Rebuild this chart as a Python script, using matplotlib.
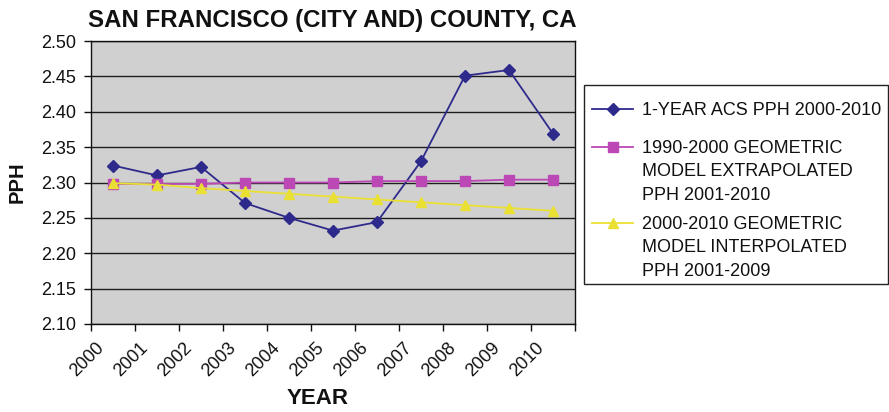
import matplotlib
matplotlib.use("Agg")
import matplotlib.pyplot as plt
from matplotlib.lines import Line2D
from matplotlib.patches import Rectangle
from matplotlib.transforms import ScaledTranslation
import numpy as np

plt.rcParams['font.family'] = ['Liberation Sans', 'DejaVu Sans']

years = ['2000', '2001', '2002', '2003', '2004', '2005',
         '2006', '2007', '2008', '2009', '2010']
acs_pph = [2.324, 2.310, 2.322, 2.271, 2.250, 2.232,
           2.244, 2.330, 2.451, 2.459, 2.369]
extrap_pph = [2.298, 2.298, 2.298, 2.300, 2.300, 2.300,
              2.302, 2.302, 2.302, 2.304, 2.304]
interp_pph = [2.299, 2.297, 2.292, 2.288, 2.284, 2.280,
              2.276, 2.272, 2.268, 2.264, 2.260]
y_ticks = [2.10, 2.15, 2.20, 2.25, 2.30, 2.35, 2.40, 2.45, 2.50]

series_labels = [['1-YEAR ACS PPH 2000-2010'],
                 ['1990-2000 GEOMETRIC', 'MODEL EXTRAPOLATED', 'PPH 2001-2010'],
                 ['2000-2010 GEOMETRIC', 'MODEL INTERPOLATED', 'PPH 2001-2009']]

BLUE = '#2E2A8C'
MAGENTA = '#BB48B4'
YELLOW = '#EAE033'
INK = '#111111'

W, H = 889, 412
fig = plt.figure(figsize=(W / 100, H / 100), dpi=100)


def px(x, y):
    """Pixel position (from top-left) to figure fraction."""
    return x / W, 1 - y / H


left, top, right, bottom = 91, 41, 575, 324
ax = fig.add_axes([left / W, 1 - bottom / H, (right - left) / W, (bottom - top) / H])
ax.set_facecolor('#D0D0D0')

x = np.arange(len(years)) + 0.5
styles = [
    (acs_pph, BLUE, 'D', 6.5),
    (extrap_pph, MAGENTA, 's', 6.5),
    (interp_pph, YELLOW, '^', 7.5),
]
for vals, col, mk, ms in styles:
    ax.plot(x, vals, color=col, lw=1.3, marker=mk, ms=ms,
            markeredgecolor=col, markerfacecolor=col, zorder=3)

ax.set_xlim(0, len(years))
ax.set_ylim(2.10, 2.50)
ax.set_yticks(y_ticks)
ax.set_yticklabels([f'{v:.2f}' for v in y_ticks], fontsize=13)
ax.yaxis.grid(True, color='#1E1E1E', lw=1.0)
ax.set_axisbelow(True)

ax.set_xticks(np.arange(len(years) + 1))
ax.set_xticklabels(years + [''], fontsize=13, rotation=45,
                   ha='right', va='center', rotation_mode='anchor')
ax.tick_params(axis='y', direction='out', length=5, width=1, pad=6, colors=INK)
ax.tick_params(axis='x', direction='out', length=5, width=1, pad=8, colors=INK)
for lab in ax.get_xticklabels():
    lab.set_transform(lab.get_transform() + ScaledTranslation(0.10, -0.03, fig.dpi_scale_trans))

for sp in ax.spines.values():
    sp.set_color(INK)
    sp.set_linewidth(1.0)

# titles
fig.text(*px(88, 27), 'SAN FRANCISCO (CITY AND) COUNTY, CA', fontsize=17.3,
         fontweight='bold', color=INK, ha='left', va='baseline')
fig.text(*px(17, 182), 'PPH', fontsize=14.5, fontweight='bold', rotation=90,
         ha='center', va='center', color=INK)
fig.text(*px(318, 398), 'YEAR', fontsize=16, fontweight='bold',
         ha='center', va='center', color=INK)

# legend box
lx0, ly0, lx1, ly1 = 584, 85, 888, 284
fx0, fy1 = px(lx0, ly0)
fx1, fy0 = px(lx1, ly1)
fig.patches.append(Rectangle((fx0, fy0), fx1 - fx0, fy1 - fy0, transform=fig.transFigure,
                             facecolor='white', edgecolor='#222222', lw=1.0))
entry_y = [108.5, 146.5, 222.5]
line_step = 23.4
for (vals, col, mk, ms), lines, ey in zip(styles, series_labels, entry_y):
    xa, ya = px(592, ey)
    xb, _ = px(633, ey)
    fig.add_artist(Line2D([xa, xb], [ya, ya], transform=fig.transFigure, color=col, lw=1.3))
    xm, _ = px(612.5, ey)
    fig.add_artist(Line2D([xm], [ya], transform=fig.transFigure, color=col, marker=mk,
                          ms=ms, markeredgecolor=col, markerfacecolor=col, lw=0))
    for k, line in enumerate(lines):
        fig.text(*px(642, ey + k * line_step), line, fontsize=13, ha='left',
                 va='center_baseline', color=INK)

fig.savefig('out.png', dpi=100, facecolor='white')
